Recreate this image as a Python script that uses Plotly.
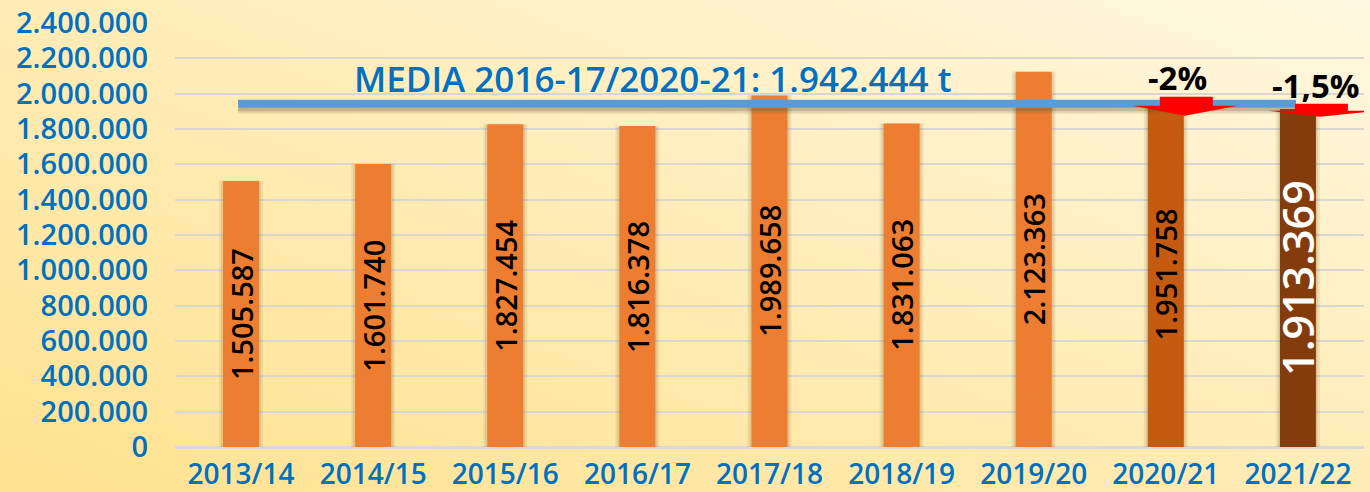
import base64
import plotly.graph_objects as go

# ---------------- data ----------------
seasons = ["2013/14", "2014/15", "2015/16", "2016/17", "2017/18",
           "2018/19", "2019/20", "2020/21", "2021/22"]
production = [1505587, 1601740, 1827454, 1816378, 1989658,
              1831063, 2123363, 1951758, 1913369]
value_labels = ["1.505.587", "1.601.740", "1.827.454", "1.816.378", "1.989.658",
                "1.831.063", "2.123.363", "1.951.758", "1.913.369"]
media_value = 1942444
media_label = "MEDIA 2016-17/2020-21: 1.942.444 t"
change_labels = {7: "-2%", 8: "-1,5%"}
y_tickvals = [0, 200000, 400000, 600000, 800000, 1000000, 1200000,
              1400000, 1600000, 1800000, 2000000, 2200000, 2400000]
y_ticktext = ["0", "200.000", "400.000", "600.000", "800.000", "1.000.000",
              "1.200.000", "1.400.000", "1.600.000", "1.800.000", "2.000.000",
              "2.200.000", "2.400.000"]

# ---------------- style ----------------
W, H = 1370, 492
ML, MR, MT, MB = 175, 6, 23, 45
PW, PH = W - ML - MR, H - MT - MB
YMAX = 2400000
VPP = YMAX / PH                 # value per pixel
CPP = 9 / PW                    # category units per pixel
BLUE_TXT = "#0070C0"
bar_colors = ["#ED7D31"] * 7 + ["#C55A11", "#843C0C"]
FONT = "Open Sans"
xs = list(range(len(seasons)))
BAR_W = 36 * CPP

fig = go.Figure()

# soft bar shadows
for extra, alpha in [(8, 0.10), (4, 0.14)]:
    fig.add_trace(go.Bar(
        x=xs, y=[v + extra * VPP * 0.3 for v in production],
        base=-2 * VPP, width=BAR_W + extra * CPP,
        marker=dict(color=f"rgba(110,85,30,{alpha})", line=dict(width=0)),
        hoverinfo="skip", showlegend=False))

fig.add_trace(go.Bar(
    x=xs, y=production, width=BAR_W,
    marker=dict(color=bar_colors, line=dict(width=0)),
    showlegend=False))

# value labels inside bars
for i, (v, lab) in enumerate(zip(production, value_labels)):
    big = (i == len(production) - 1)
    fig.add_annotation(
        x=i, y=v / 2, xref="x", yref="y", text=lab, textangle=-90,
        showarrow=False,
        font=dict(family=FONT, size=43 if big else 29,
                  color="white" if big else "black",
                  weight=600))

# media line with shadow
x0, x1 = -3 * CPP, 8 - 2 * CPP
shapes = []
for dy, lw, col in [(-7, 6, "rgba(120,95,40,0.16)"), (-4, 7, "rgba(100,80,30,0.26)")]:
    shapes.append(dict(type="line", xref="x", yref="y", x0=x0, x1=x1,
                       y0=media_value + dy * VPP, y1=media_value + dy * VPP,
                       line=dict(color=col, width=lw), layer="above"))
shapes.append(dict(type="line", xref="x", yref="y", x0=x0, x1=x1,
                   y0=media_value, y1=media_value,
                   line=dict(color="#5B9BD5", width=8), layer="above"))

# red down arrows (px offsets relative to bar centre / media line)
arrow_geom = {
    7: dict(rl=-6, rr=47, tl=-33, tr=72, ax=19, rt=7, rb=-2, ap=-12),
    8: dict(rl=-3, rr=50, tl=-30, tr=80, ax=22, rt=0, rb=-7, ap=-13),
}
for i, g in arrow_geom.items():
    def X(px):
        return i + px * CPP
    def Y(py):
        return media_value + py * VPP
    path = (f"M{X(g['rl'])},{Y(g['rt'])} L{X(g['rr'])},{Y(g['rt'])} "
            f"L{X(g['rr'])},{Y(g['rb'])} L{X(g['tr'])},{Y(g['rb'])} "
            f"L{X(g['ax'])},{Y(g['ap'])} L{X(g['tl'])},{Y(g['rb'])} "
            f"L{X(g['rl'])},{Y(g['rb'])} Z")
    shapes.append(dict(type="path", xref="x", yref="y", path=path,
                       fillcolor="#FF0000", line=dict(width=0), layer="above"))

fig.update_layout(shapes=shapes)

# media text
fig.add_annotation(x=3.12, y=media_value, xref="x", yref="y", yshift=25,
                   text=media_label, showarrow=False,
                   font=dict(family=FONT, size=35, color=BLUE_TXT, weight=600))
# change labels
for i, lab in change_labels.items():
    dx = 12 if i == 7 else 18
    ys = 26 if i == 7 else 18
    fig.add_annotation(x=i + dx * CPP, y=media_value, xref="x", yref="y",
                       yshift=ys, text=lab, showarrow=False,
                       font=dict(family=FONT, size=33, color="black", weight=700))

# background gradient via SVG image
svg = f'''<svg xmlns="http://www.w3.org/2000/svg" width="{W}" height="{H}" preserveAspectRatio="none">
<defs><linearGradient id="g" x1="0" y1="1" x2="1" y2="0">
<stop offset="0" stop-color="#FFE290"/>
<stop offset="0.5" stop-color="#FFECB6"/>
<stop offset="1" stop-color="#FFF7E0"/>
</linearGradient></defs>
<rect width="{W}" height="{H}" fill="url(#g)"/></svg>'''
src = "data:image/svg+xml;base64," + base64.b64encode(svg.encode()).decode()
fig.add_layout_image(dict(source=src, xref="paper", yref="paper",
                          x=-ML / PW, y=1 + MT / PH, sizex=W / PW, sizey=H / PH,
                          sizing="stretch", layer="below", xanchor="left",
                          yanchor="top"))

fig.update_layout(
    width=W, height=H,
    margin=dict(l=ML, r=MR, t=MT, b=MB, pad=0),
    paper_bgcolor="#FFEDB9", plot_bgcolor="rgba(0,0,0,0)",
    barmode="overlay", showlegend=False,
    xaxis=dict(range=[-0.5, 8.5], tickvals=xs, ticktext=seasons,
               showgrid=False, zeroline=False, showline=False, ticks="",
               ticklabelstandoff=8, automargin=False,
               tickfont=dict(family=FONT, size=28, color=BLUE_TXT, weight=600)),
    yaxis=dict(range=[0, YMAX], tickvals=y_tickvals, ticktext=y_ticktext,
               showgrid=True, gridcolor="#DAD7D2", gridwidth=2,
               zeroline=True, zerolinecolor="#D9D9D9", zerolinewidth=3,
               showline=False, ticks="", ticklabelstandoff=26, automargin=False,
               tickfont=dict(family=FONT, size=29, color=BLUE_TXT, weight=600)),
)

fig.write_html("out.html",
               config={"displayModeBar": False},
               post_script="document.body.style.margin='0';"
                           "document.body.style.overflow='hidden';")
